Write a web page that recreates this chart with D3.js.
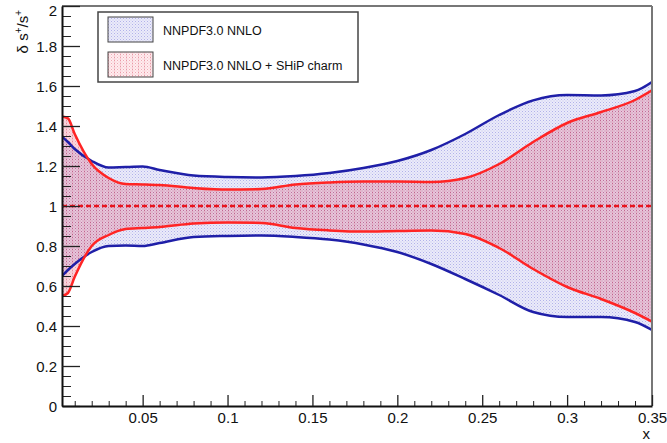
<!DOCTYPE html>
<html lang="en">
<head>
<meta charset="UTF-8">
<title>delta s+/s+</title>
<script src="https://cdnjs.cloudflare.com/ajax/libs/d3/7.8.5/d3.min.js"></script>
<style>
  body{margin:0;background:#fff;}
  svg{display:block;font-family:"Liberation Sans",Arial,sans-serif;}
</style>
</head>
<body>
<svg id="chart" width="667" height="443"></svg>
<script>
// x grid shared by all four band edges
var xs      = [0.0025,0.006,0.01,0.02,0.03,0.04,0.05,0.06,0.08,0.10,0.12,0.14,0.16,0.18,0.20,0.22,0.24,0.26,0.28,0.30,0.32,0.34,0.35];
// NNPDF3.0 NNLO band
var nnpdfUp = [1.347,1.32,1.285,1.225,1.192,1.195,1.197,1.18,1.152,1.145,1.143,1.15,1.165,1.19,1.225,1.28,1.36,1.455,1.528,1.555,1.553,1.575,1.62];
var nnpdfLo = [0.65,0.68,0.71,0.77,0.80,0.802,0.80,0.815,0.845,0.85,0.852,0.845,0.832,0.808,0.77,0.71,0.635,0.555,0.47,0.445,0.445,0.42,0.38];
// NNPDF3.0 NNLO + SHiP charm band
var shipUp  = [1.447,1.438,1.36,1.21,1.14,1.11,1.108,1.105,1.09,1.082,1.085,1.108,1.118,1.122,1.122,1.12,1.14,1.21,1.32,1.415,1.47,1.53,1.578];
var shipLo  = [0.55,0.565,0.646,0.80,0.855,0.885,0.89,0.895,0.912,0.918,0.915,0.89,0.878,0.872,0.875,0.877,0.86,0.79,0.685,0.595,0.535,0.465,0.422];

var xTicks  = [0.05,0.1,0.15,0.2,0.25,0.3,0.35];
var yTicks  = [0,0.2,0.4,0.6,0.8,1,1.2,1.4,1.6,1.8,2];
var legendLabels = ["NNPDF3.0 NNLO","NNPDF3.0 NNLO + SHiP charm"];

var svg = d3.select("#chart");
var padL = 62, padR = 652, padT = 6, padB = 406;

var x = d3.scaleLinear().domain([0.0025,0.35]).range([padL,padR]);
var y = d3.scaleLinear().domain([0,2]).range([padB,padT]);

// fill patterns, ROOT-ish dotted hatch
var defs = svg.append("defs");
function hatch(id, col, a, stripe){
  var p = defs.append("pattern").attr("id",id)
    .attr("patternUnits","userSpaceOnUse").attr("width",6).attr("height",3);
  [[0,0,a],[3,0,a],[1.5,1.5,a*0.7],[4.5,1.5,a*0.7]].forEach(function(d){
    p.append("rect").attr("x",d[0]).attr("y",d[1]).attr("width",1).attr("height",1)
      .attr("fill",col).attr("opacity",d[2]);
  });
  if(stripe) p.append("rect").attr("x",0).attr("y",0).attr("width",1).attr("height",3).attr("fill",col).attr("opacity",stripe);
}
hatch("hBlue","#3030c0",0.3,0);
hatch("hRed","#c8102e",0.3,0.12);

defs.append("clipPath").attr("id","frame").append("rect")
  .attr("x",padL).attr("y",padT).attr("width",padR-padL).attr("height",padB-padT);

var idx = d3.range(xs.length);
var band = function(up,lo){
  return d3.area().x(function(i){ return x(xs[i]); })
    .y0(function(i){ return y(lo[i]); })
    .y1(function(i){ return y(up[i]); })
    .curve(d3.curveMonotoneX);
};
var edge = function(v){
  return d3.line().x(function(i){ return x(xs[i]); })
    .y(function(i){ return y(v[i]); })
    .curve(d3.curveMonotoneX);
};

var plot = svg.append("g").attr("clip-path","url(#frame)");

plot.append("path").attr("d",band(nnpdfUp,nnpdfLo)(idx)).attr("fill","#5a5ad2").attr("fill-opacity",0.12);
plot.append("path").attr("d",band(nnpdfUp,nnpdfLo)(idx)).attr("fill","url(#hBlue)");
plot.append("path").attr("d",band(shipUp,shipLo)(idx)).attr("fill","#e02850").attr("fill-opacity",0.18);
plot.append("path").attr("d",band(shipUp,shipLo)(idx)).attr("fill","url(#hRed)");

[nnpdfUp,nnpdfLo].forEach(function(v){
  plot.append("path").attr("d",edge(v)(idx)).attr("fill","none")
    .attr("stroke","#1f1fa8").attr("stroke-width",2.5);
});
[shipUp,shipLo].forEach(function(v){
  plot.append("path").attr("d",edge(v)(idx)).attr("fill","none")
    .attr("stroke","#ff2424").attr("stroke-width",2.5);
});

// central value
plot.append("line").attr("x1",padL).attr("x2",padR).attr("y1",y(1)).attr("y2",y(1))
  .attr("stroke","#e8141e").attr("stroke-width",2.4).attr("stroke-dasharray","5,3");

// frame top/right
svg.append("line").attr("x1",padL).attr("x2",padR).attr("y1",padT).attr("y2",padT)
  .attr("stroke","#777").attr("stroke-width",2);
svg.append("line").attr("x1",padR).attr("x2",padR).attr("y1",padT).attr("y2",padB)
  .attr("stroke","#777").attr("stroke-width",2);

// minor ticks
var yMinor = d3.range(0,2.001,0.05).filter(function(v){ return Math.abs(v*5-Math.round(v*5))>1e-6; });
var xMinor = d3.range(0.01,0.3501,0.01).filter(function(v){ return Math.abs(v*20-Math.round(v*20))>1e-6; });

svg.append("g").attr("transform","translate("+padL+",0)")
  .call(d3.axisLeft(y).tickValues(yMinor).tickSizeInner(-9).tickSizeOuter(0).tickFormat(""))
  .call(function(g){ g.select(".domain").remove(); g.selectAll("line").attr("stroke","#222"); });
svg.append("g").attr("transform","translate(0,"+padB+")")
  .call(d3.axisBottom(x).tickValues(xMinor).tickSizeInner(-5).tickSizeOuter(0).tickFormat(""))
  .call(function(g){ g.select(".domain").remove(); g.selectAll("line").attr("stroke","#222"); });

// major axes
var fmt = function(v){ return String(+v.toFixed(2)); };
var yAx = svg.append("g").attr("transform","translate("+padL+",0)")
  .call(d3.axisLeft(y).tickValues(yTicks).tickSizeInner(-18).tickSizeOuter(0).tickPadding(5).tickFormat(fmt));
var xAx = svg.append("g").attr("transform","translate(0,"+padB+")")
  .call(d3.axisBottom(x).tickValues(xTicks).tickSizeInner(-11).tickSizeOuter(0).tickPadding(6).tickFormat(fmt));
[yAx,xAx].forEach(function(g){
  g.select(".domain").attr("stroke","#111").attr("stroke-width",2);
  g.selectAll("line").attr("stroke","#222").attr("stroke-width",1.3);
  g.selectAll("text").attr("font-family","Liberation Sans, Arial, sans-serif")
    .attr("font-size",15).attr("fill","#111");
});
yAx.selectAll(".tick text").attr("dy","0.36em");
yAx.selectAll(".tick text").filter(function(d){ return d===2; }).attr("dy","0.6em");
xAx.selectAll(".tick text").attr("dy","0.71em").attr("y",6);

// axis titles
var yt = svg.append("text").attr("transform","translate(28,10) rotate(-90)")
  .attr("text-anchor","end").attr("font-size",15).attr("fill","#111");
yt.append("tspan").text("\u03b4 s");
yt.append("tspan").text("+").attr("font-size",10).attr("dy",-6);
yt.append("tspan").text("/s").attr("dy",6);
yt.append("tspan").text("+").attr("font-size",10).attr("dy",-6);

svg.append("text").attr("x",650).attr("y",439).attr("text-anchor","end")
  .attr("font-size",15).attr("fill","#111").text("x");

// legend
var lg = svg.append("g");
lg.append("rect").attr("x",98).attr("y",12).attr("width",260).attr("height",70)
  .attr("fill","#fff").attr("stroke","#444").attr("stroke-width",1.5);
var swFill = [["#5a5ad2","url(#hBlue)",0.12],["#ff5060","url(#hRed)",0.1]];
legendLabels.forEach(function(t,i){
  var yy = 17 + i*35;
  lg.append("rect").attr("x",108).attr("y",yy).attr("width",45).attr("height",25)
    .attr("fill","#fff");
  lg.append("rect").attr("x",108).attr("y",yy).attr("width",45).attr("height",25)
    .attr("fill",swFill[i][0]).attr("fill-opacity",swFill[i][2]);
  lg.append("rect").attr("x",108).attr("y",yy).attr("width",45).attr("height",25)
    .attr("fill",swFill[i][1]).attr("stroke","#444").attr("stroke-width",1);
  lg.append("text").attr("x",163).attr("y",yy+17.5).attr("font-size",12.5)
    .attr("fill","#111").text(t);
});
</script>
</body>
</html>
